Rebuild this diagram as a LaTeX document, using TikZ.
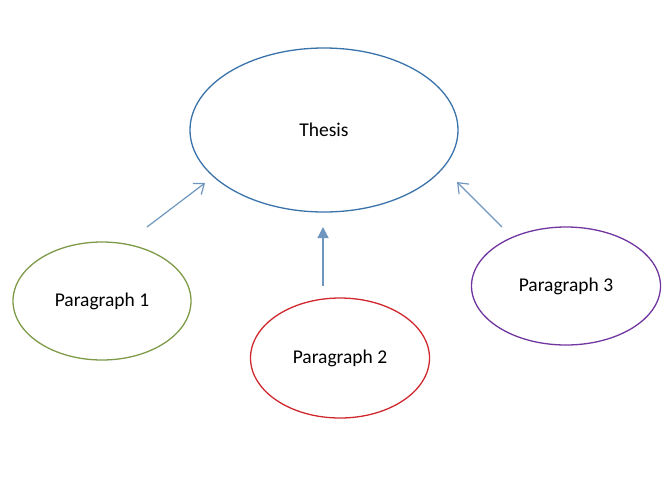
\documentclass[tikz,border=0pt]{standalone}
\usepackage{fontspec}
\setmainfont{Carlito}
\usetikzlibrary{shapes.geometric,arrows.meta}
\definecolor{thesisblue}{HTML}{3A72AA}
\definecolor{arrowblue}{HTML}{6E96BE}
\definecolor{paragreen}{HTML}{7E9A48}
\definecolor{parared}{HTML}{D0282E}
\definecolor{parapurple}{HTML}{7236A0}
\begin{document}
\begin{tikzpicture}[
        x=1pt, y=-1pt,
        bubble/.style={
          draw,
          ellipse,
          line width=1.3pt,
          inner sep=0pt,
          font=\fontsize{19.5}{23}\selectfont
        },
        link/.style={
          draw=arrowblue,
          line width=1.2pt
        }
      ]
      \useasboundingbox (0,0) rectangle (668,480);
      \node[bubble, draw=thesisblue, minimum width=268pt, minimum height=164pt]
        (thesis) at (324,130) {Thesis};
      \node[bubble, draw=paragreen, minimum width=178pt, minimum height=118pt]
        (para1) at (102,301) {Paragraph 1};
      \node[bubble, draw=parared, minimum width=179pt, minimum height=120pt]
        (para2) at (340,358) {Paragraph 2};
      \node[bubble, draw=parapurple, minimum width=189pt, minimum height=118pt]
        (para3) at (566,286) {Paragraph 3};

      \coordinate (from1) at (147,227);
      \coordinate (to1) at (205,183);
      \coordinate (from2) at (323,286);
      \coordinate (to2) at (323,227);
      \coordinate (from3) at (502,227);
      \coordinate (to3) at (457,182);

      \draw[link, -{Straight Barb[length=9pt,width=14pt]}] (from1) -- (to1);
      \draw[link, -{Triangle[length=11pt,width=11pt]}] (from2) -- (to2);
      \draw[link, -{Straight Barb[length=9pt,width=14pt]}] (from3) -- (to3);
    \end{tikzpicture}
\end{document}
